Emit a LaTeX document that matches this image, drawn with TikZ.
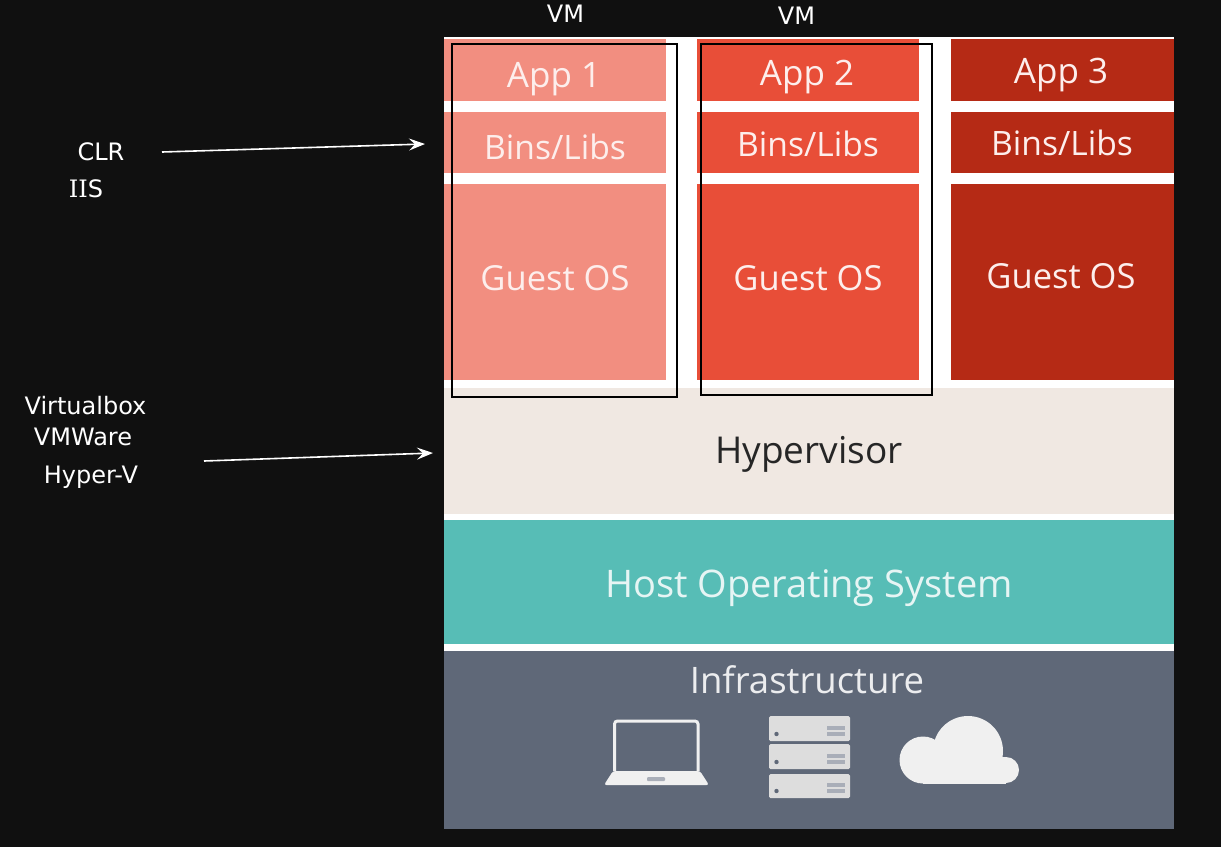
\documentclass[tikz,border=0pt]{standalone}
\usepackage{fontspec}
\setmainfont{DejaVu Sans}
\newfontfamily\panelfont{Open Sans}
\newfontfamily\slabfont{DejaVu Serif}
\usetikzlibrary{arrows.meta}
\definecolor{bgdark}{HTML}{101010}
\definecolor{pale}{HTML}{F28E80}
\definecolor{mid}{HTML}{E84E38}
\definecolor{deep}{HTML}{B52A15}
\definecolor{hyper}{HTML}{F0E8E2}
\definecolor{host}{HTML}{57BDB6}
\definecolor{infra}{HTML}{5F6878}
\definecolor{icon}{HTML}{F0F0F0}
\definecolor{slot}{HTML}{A9AEB8}
\tikzset{
  x=1pt,y=-1pt,
  block/.style={inner sep=0pt,outer sep=0pt,anchor=north west,draw=none},
  paneltext/.style={font=\panelfont\fontsize{#1}{#1}\selectfont,inner sep=0pt,text=white!85!pale},
  lbl/.style={font=\fontsize{24}{24}\selectfont,text=white,inner sep=0pt},
  vmbox/.style={draw=black,line width=2pt,fill=none},
  pointer/.style={draw=white,line width=1.6pt,-{Stealth[length=16pt,width=12pt,inset=6pt]}},
}
\newcommand{\blockat}[6]{\node[block,fill=#6,minimum width=#4pt,minimum height=#5pt] (#1) at (#2,#3) {};}
\begin{document}
\begin{tikzpicture}
\useasboundingbox (0,0) rectangle (1221,847);
\fill[bgdark] (0,0) rectangle (1221,847);
\fill[white] (444,37) rectangle (1174,829);
% app columns
\blockat{a1}{444}{39}{222}{62}{pale}
\blockat{b1}{444}{112}{222}{61}{pale}
\blockat{g1}{444}{184}{222}{196}{pale}
\blockat{a2}{697}{39}{222}{62}{mid}
\blockat{b2}{697}{112}{222}{61}{mid}
\blockat{g2}{697}{184}{222}{196}{mid}
\blockat{a3}{951}{39}{223}{62}{deep}
\blockat{b3}{951}{112}{223}{61}{deep}
\blockat{g3}{951}{184}{223}{196}{deep}
\blockat{hv}{444}{388}{730}{126}{hyper}
\blockat{ho}{444}{520}{730}{124}{host}
\blockat{in}{444}{651}{730}{178}{infra}
% panel text
\node[paneltext=35] (ta1) at (554,79) {App 1};
\node[paneltext=35] (ta2) at (807,77) {App 2};
\node[paneltext=35] (ta3) at (1061,75) {App 3};
\node[paneltext=33.6] (tb1) at (555,147) {Bins/Libs};
\node[paneltext=33.6] (tb2) at (808,144) {Bins/Libs};
\node[paneltext=33.6] (tb3) at (1062,143) {Bins/Libs};
\node[paneltext=34.5] (tg1) at (555,278) {Guest OS};
\node[paneltext=34.5] (tg2) at (808,278) {Guest OS};
\node[paneltext=34.5] (tg3) at (1061,276) {Guest OS};
\node[paneltext=37,text=black!85] (thv) at (809,454) {Hypervisor};
\node[paneltext=38,text=white!85!host] (tho) at (809,588) {Host Operating System};
\node[paneltext=36.5,text=white!88!infra] (tin) at (807,680) {Infrastructure};
% laptop
\draw[icon,line width=3pt,rounded corners=3pt] (614.5,771) -- (614.5,721) -- (698,721) -- (698,771);
\fill[icon,rounded corners=2.5pt] (613,771) -- (700,771) -- (709,785) -- (604,785) -- cycle;
\fill[slot,rounded corners=1pt] (647,777) rectangle (665,781);
% servers
\foreach \t/\b in {716/741,744/769,774/798}{
  \fill[icon!92!black,rounded corners=1.5pt] (769,\t) rectangle (850,\b);
  \fill[infra] (776.5,\b-7) circle (2.2);
  \fill[slot] (827,\b-15) rectangle (845,\b-11);
  \fill[slot] (827,\b-9) rectangle (845,\b-5);
}
% cloud
\begin{scope}
\clip (890,710) rectangle (1025,783.4);
\fill[icon] (968,751) circle (35);
\fill[icon] (923,760) circle (23.5);
\fill[icon] (1006,770) circle (13);
\fill[icon] (923,757) rectangle (1006,784);
\end{scope}
% VM frames
\draw[vmbox] (452,44) rectangle (677,397);
\draw[vmbox] (701,44) rectangle (932,395);
% labels
\node[lbl] (vm1) at (565.5,14) {VM};
\node[lbl] (vm2) at (796.5,16) {VM};
\node[lbl] (clr) at (101,152) {CLR};
\node[lbl] (iis) at (86,189) {{\slabfont II}S};
\node[lbl] (vb) at (85.5,406) {Virtualbox};
\node[lbl] (vw) at (83,437) {VMWare};
\node[lbl] (hy) at (91,477) {Hyper-V};
% arrows
\coordinate (c1s) at (162,152);
\coordinate (c1e) at (425,144);
\coordinate (c2s) at (204,461);
\coordinate (c2e) at (433,453);
\draw[pointer] (c1s) -- (c1e);
\draw[pointer] (c2s) -- (c2e);
\end{tikzpicture}
\end{document}
